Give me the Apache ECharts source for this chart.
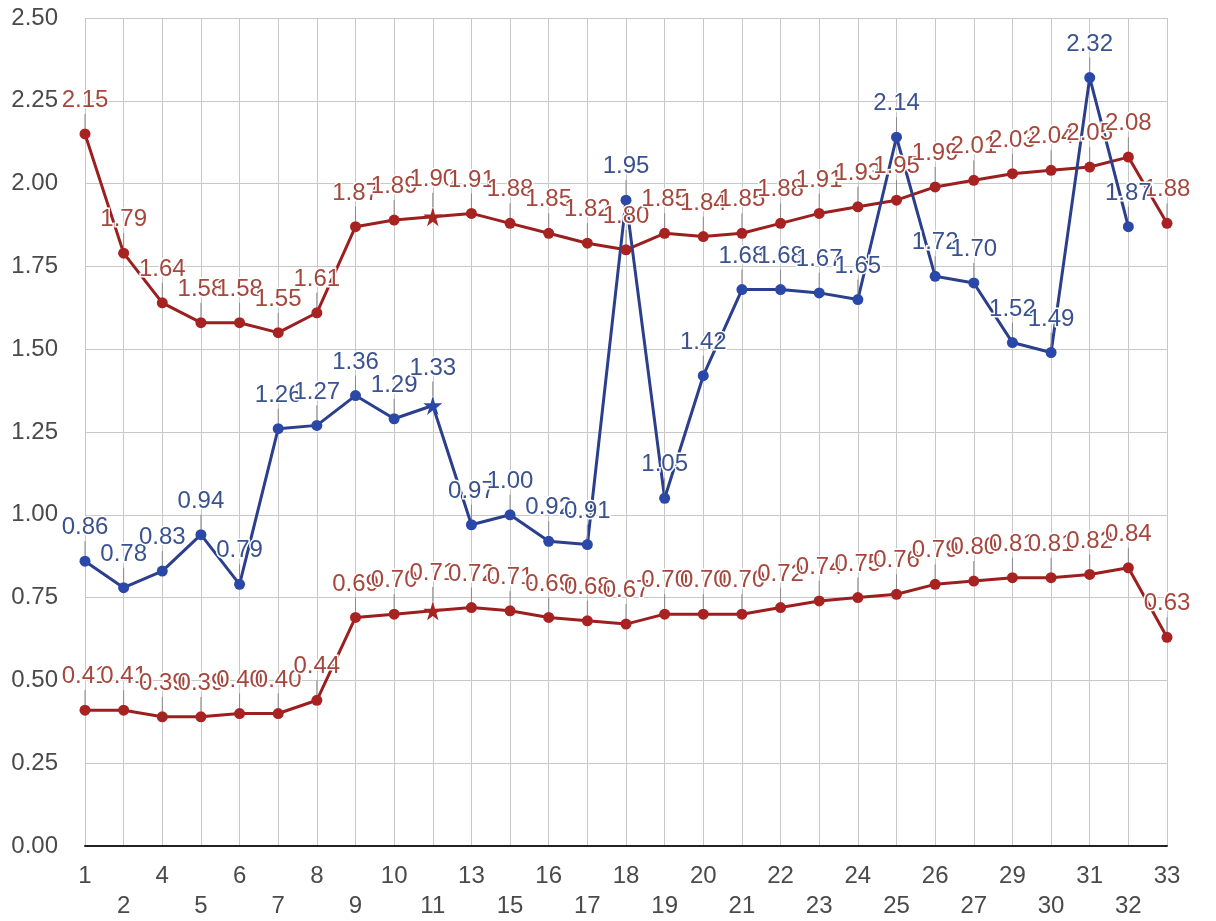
<!DOCTYPE html>
<html>
<head>
<meta charset="utf-8">
<script src="https://cdn.jsdelivr.net/npm/echarts@6/dist/echarts.min.js"></script>
<style>
  html, body { margin: 0; padding: 0; background: #fff; }
  #chart { width: 1216px; height: 921px; }
</style>
</head>
<body>
<div id="chart"></div>
<script>
// Category labels along the x axis
const categories = ['1','2','4','5','6','7','8','9','10','11','13','15','16','17','18','19','20','21','22','23','24','25','26','27','29','30','31','32','33'];

// Upper red series
const upperRed = [2.15,1.79,1.64,1.58,1.58,1.55,1.61,1.87,1.89,1.90,1.91,1.88,1.85,1.82,1.80,1.85,1.84,1.85,1.88,1.91,1.93,1.95,1.99,2.01,2.03,2.04,2.05,2.08,1.88];

// Blue series (no value at the last category)
const blueSeries = [0.86,0.78,0.83,0.94,0.79,1.26,1.27,1.36,1.29,1.33,0.97,1.00,0.92,0.91,1.95,1.05,1.42,1.68,1.68,1.67,1.65,2.14,1.72,1.70,1.52,1.49,2.32,1.87,null];

// Lower red series
const lowerRed = [0.41,0.41,0.39,0.39,0.40,0.40,0.44,0.69,0.70,0.71,0.72,0.71,0.69,0.68,0.67,0.70,0.70,0.70,0.72,0.74,0.75,0.76,0.79,0.80,0.81,0.81,0.82,0.84,0.63];

// Category that is drawn with a star marker
const starCategory = '11';

const FONT = '"Liberation Sans", Arial, sans-serif';
const STAR = 'path://M50,0 L61,35 L98,35 L68,57 L79,91 L50,70 L21,91 L32,57 L2,35 L39,35 Z';

function withMarkers(values) {
  return values.map((v, i) => {
    if (categories[i] === starCategory && v != null) {
      return { value: v, symbol: STAR, symbolSize: 19 };
    }
    return v;
  });
}

function lineSeries(name, values, lineColor, dotColor, labelColor) {
  return {
    name: name,
    type: 'line',
    data: withMarkers(values),
    symbol: 'circle',
    symbolSize: 11,
    connectNulls: false,
    lineStyle: { color: lineColor, width: 3 },
    itemStyle: { color: dotColor },
    label: {
      show: true,
      position: 'top',
      distance: 6,
      color: labelColor,
      fontFamily: FONT,
      fontSize: 24,
      textBorderColor: '#fff',
      textBorderWidth: 3,
      formatter: p => p.value == null ? '' : Number(p.value).toFixed(2)
    },
    labelLayout: { dy: -10 },
    labelLine: { show: true, lineStyle: { color: '#8a8a8a', width: 1 } },
    emphasis: { disabled: true },
    animation: false
  };
}

const chart = echarts.init(document.getElementById('chart'), null, { renderer: 'canvas' });

chart.setOption({
  backgroundColor: '#fff',
  animation: false,
  grid: { left: 85, right: 49, top: 18, bottom: 73, containLabel: false },
  xAxis: {
    type: 'category',
    data: categories,
    boundaryGap: false,
    axisLine: { show: true, lineStyle: { color: '#222', width: 2 } },
    axisTick: { show: false },
    splitLine: { show: true, lineStyle: { color: '#c8c8c8', width: 1 } },
    axisLabel: {
      interval: 0,
      margin: 15,
      color: '#4a4a4a',
      fontFamily: FONT,
      fontSize: 24,
      lineHeight: 30,
      formatter: (v, i) => (i % 2 === 1 ? '\n' + v : v)
    }
  },
  yAxis: {
    type: 'value',
    min: 0,
    max: 2.5,
    interval: 0.25,
    axisLine: { show: false },
    axisTick: { show: false },
    splitLine: { show: true, lineStyle: { color: '#c8c8c8', width: 1 } },
    axisLabel: {
      margin: 27,
      color: '#4a4a4a',
      fontFamily: FONT,
      fontSize: 24,
      formatter: v => v.toFixed(2)
    }
  },
  series: [
    lineSeries('upper', upperRed, '#9c1f1f', '#a82222', '#a5473d'),
    lineSeries('blue', blueSeries, '#2b3f8c', '#2a48a8', '#3a5290'),
    lineSeries('lower', lowerRed, '#9c1f1f', '#a82222', '#a5473d')
  ]
});
</script>
</body>
</html>
